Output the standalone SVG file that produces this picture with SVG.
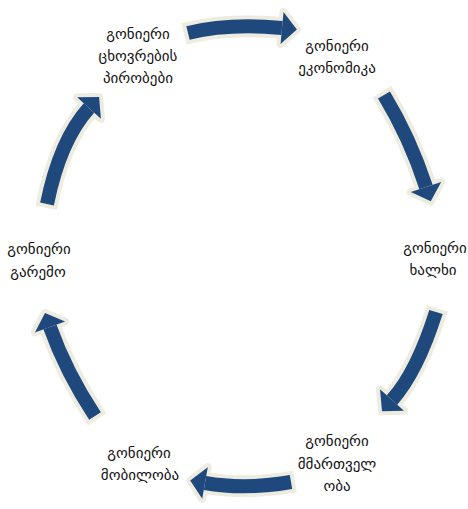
<svg xmlns="http://www.w3.org/2000/svg" width="468" height="509" viewBox="0 0 468 509">
<style>
.bg{fill:#fff}
.ob{fill:none;stroke:#EEECE1;stroke-width:22;stroke-linecap:butt;stroke-linejoin:round}
.oh{fill:#EEECE1;stroke:#EEECE1;stroke-width:8;stroke-linejoin:round}
.bb{fill:none;stroke:#1F497D;stroke-width:14;stroke-linecap:butt}
.bh{fill:#1F497D;stroke:none}
text{font-family:"DejaVu Sans","Noto Sans",sans-serif;font-size:15px;fill:#111;text-anchor:middle}
</style>
<rect class="bg" x="0" y="0" width="468" height="509"/>
<g id="connectors">
  <g id="arrow1">
    <path class="ob" d="M184.1,34 L188,33 Q229,23 282,28"/>
    <polygon class="oh" points="296.9,29.4 280.5,43.9 283.5,12.1"/>
    <path class="bb" d="M188,33 Q229,23 282,28"/>
    <polygon class="bh" points="296.9,29.4 280.5,43.9 283.5,12.1"/>
  </g>
  <g id="arrow2">
    <path class="ob" d="M381.9,91.6 L384,95 Q410,138 426,187"/>
    <polygon class="oh" points="430.7,201.3 410.8,192 441.2,182"/>
    <path class="bb" d="M384,95 Q410,138 426,187"/>
    <polygon class="bh" points="430.7,201.3 410.8,192 441.2,182"/>
  </g>
  <g id="arrow3">
    <path class="ob" d="M437.2,308.2 L436,312 Q417,372 392,400"/>
    <polygon class="oh" points="382,411.2 380,389.3 404,410.7"/>
    <path class="bb" d="M436,312 Q417,372 392,400"/>
    <polygon class="bh" points="382,411.2 380,389.3 404,410.7"/>
  </g>
  <g id="arrow4">
    <path class="ob" d="M294.9,481.3 L291,482 Q245,490 205,483"/>
    <polygon class="oh" points="190.2,480.4 207.8,467.2 202.2,498.8"/>
    <path class="bb" d="M291,482 Q245,490 205,483"/>
    <polygon class="bh" points="190.2,480.4 207.8,467.2 202.2,498.8"/>
  </g>
  <g id="arrow5">
    <path class="ob" d="M97.2,419.3 L95,416 Q66,372 50,327"/>
    <polygon class="oh" points="45,312.9 65.1,321.6 34.9,332.4"/>
    <path class="bb" d="M95,416 Q66,372 50,327"/>
    <polygon class="bh" points="45,312.9 65.1,321.6 34.9,332.4"/>
  </g>
  <g id="arrow6">
    <path class="ob" d="M46.2,207.9 L47,204 Q60,140 89,108"/>
    <polygon class="oh" points="99.1,96.9 100.9,118.8 77.1,97.2"/>
    <path class="bb" d="M47,204 Q60,140 89,108"/>
    <polygon class="bh" points="99.1,96.9 100.9,118.8 77.1,97.2"/>
  </g>
</g>
<g id="node-living">
  <text x="138" y="39">გონიერი</text>
  <text x="138" y="61">ცხოვრების</text>
  <text x="138" y="83">პირობები</text>
</g>
<g id="node-economy">
  <text x="337" y="51">გონიერი</text>
  <text x="337" y="73">ეკონომიკა</text>
</g>
<g id="node-people">
  <text x="435" y="253">გონიერი</text>
  <text x="433" y="275">ხალხი</text>
</g>
<g id="node-governance">
  <text x="337" y="446">გონიერი</text>
  <text x="337" y="469">მმართველ</text>
  <text x="337" y="491">ობა</text>
</g>
<g id="node-mobility">
  <text x="139" y="458">გონიერი</text>
  <text x="140" y="480">მობილობა</text>
</g>
<g id="node-environment">
  <text x="39" y="254">გონიერი</text>
  <text x="38" y="277">გარემო</text>
</g>
</svg>
